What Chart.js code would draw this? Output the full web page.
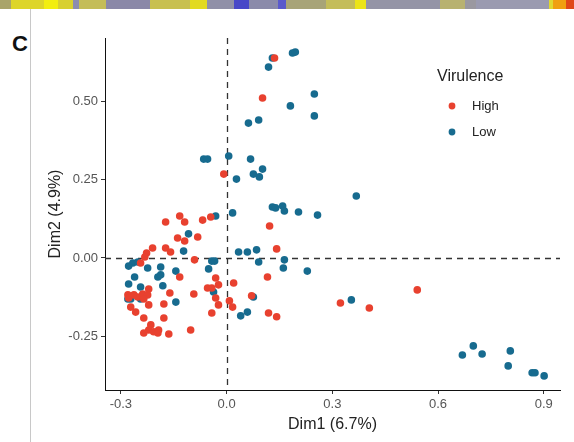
<!DOCTYPE html>
<html>
<head>
<meta charset="utf-8">
<script src="https://cdn.jsdelivr.net/npm/chart.js@4/dist/chart.umd.min.js"></script>
<style>
  html, body { margin: 0; padding: 0; background: #fff; }
  #wrap { position: relative; width: 574px; height: 442px; overflow: hidden;
          font-family: "Liberation Sans", Arial, Helvetica, sans-serif; }
  #strip { position: absolute; left: 0; top: 0; width: 574px; height: 9px;
    background: linear-gradient(to right,
      #a9a46a 0px, #a9a46a 11px, #ddd52a 11px, #ddd52a 44px, #f2ee10 44px, #f2ee10 58px,
      #d8d030 58px, #d8d030 73px, #8c8cb0 73px, #8c8cb0 79px, #c4bd58 79px, #c4bd58 106px,
      #8a88a8 106px, #8a88a8 150px, #c8c050 150px, #c8c050 190px, #e2da20 190px, #e2da20 207px,
      #9090a8 207px, #9090a8 234px, #4848c8 234px, #4848c8 249px, #8a8aaa 249px, #8a8aaa 278px,
      #5a5acc 278px, #5a5acc 286px, #a8a478 286px, #a8a478 326px, #c4bd5a 326px, #c4bd5a 355px,
      #ece418 355px, #ece418 366px, #9494a6 366px, #9494a6 440px, #b8b270 440px, #b8b270 465px,
      #9a98a0 465px, #9a98a0 476px, #9a9ab0 476px, #9a9ab0 549px, #e0d830 549px, #e0d830 553px,
      #f0a010 553px, #f0a010 566px, #e04818 566px, #e04818 574px); }
  #rule { position: absolute; left: 30px; top: 9px; width: 1px; height: 433px; background: #c8c8c8; }
  #panel { position: absolute; left: 12px; top: 31px; font-weight: bold; font-size: 22px; color: #111; }
  canvas { position: absolute; left: 0; top: 0; }
</style>
</head>
<body>
<div id="wrap">
  <div id="strip"></div>
  <div id="rule"></div>
  <div id="panel">C</div>
  <canvas id="pca" width="574" height="442"></canvas>
</div>
<script>
// Virulence groups and their PCA coordinates (Dim1, Dim2)
const groups = ['High', 'Low'];
const groupColors = ['#e8412f', '#176b8f'];

const highX = [0.136,0.102,-0.008,-0.045,-0.068,0.122,-0.133,-0.173,-0.119,-0.139,-0.119,-0.082,
  -0.173,-0.159,-0.210,-0.227,-0.232,-0.091,-0.244,0.142,0.116,-0.133,-0.031,0.020,
  -0.023,-0.054,-0.042,-0.221,-0.161,-0.093,-0.280,-0.263,-0.252,-0.238,-0.224,-0.278,
  -0.235,-0.031,0.008,-0.023,0.017,-0.221,-0.272,-0.178,0.071,-0.258,-0.235,-0.178,
  -0.042,0.119,0.142,-0.215,-0.193,-0.221,-0.207,-0.235,-0.195,-0.164,-0.102,0.323,
  0.405,0.541];
const highY = [0.639,0.511,0.268,0.131,0.121,0.102,0.134,0.115,0.115,0.064,0.054,0.067,
  0.032,0.019,0.032,0.016,0.003,-0.006,-0.016,0.029,-0.061,-0.061,-0.064,-0.080,
  -0.086,-0.096,-0.096,-0.099,-0.112,-0.115,-0.118,-0.118,-0.125,-0.115,-0.118,-0.128,
  -0.131,-0.128,-0.137,-0.150,-0.157,-0.150,-0.157,-0.147,-0.121,-0.173,-0.192,-0.192,
  -0.176,-0.176,-0.188,-0.214,-0.230,-0.230,-0.236,-0.240,-0.240,-0.243,-0.230,-0.144,
  -0.160,-0.102];

const lowX = [0.187,0.195,0.130,0.119,0.249,0.181,0.249,0.062,0.091,-0.065,
  -0.054,0.006,0.068,0.102,0.076,0.093,0.028,0.368,0.130,0.139,
  0.159,0.164,0.204,0.258,0.017,-0.031,-0.108,-0.122,0.034,0.059,
  0.085,0.091,-0.042,-0.034,-0.051,0.164,0.161,0.229,-0.266,-0.252,
  -0.278,-0.224,-0.187,-0.144,-0.261,-0.195,-0.187,-0.278,-0.244,-0.181,
  -0.037,-0.280,-0.272,-0.244,-0.144,0.076,0.040,0.059,0.354,0.669,
  0.700,0.725,0.805,0.799,0.867,0.875,0.901];
const lowY = [0.655,0.658,0.639,0.610,0.524,0.486,0.454,0.431,0.441,0.316,
  0.316,0.326,0.316,0.284,0.268,0.259,0.252,0.198,0.163,0.160,
  0.166,0.150,0.147,0.137,0.144,0.134,0.077,0.022,0.019,0.019,
  0.026,-0.013,-0.010,-0.010,-0.035,-0.006,-0.032,-0.042,-0.016,-0.013,
  -0.026,-0.032,-0.029,-0.042,-0.061,-0.061,-0.054,-0.083,-0.093,-0.089,
  -0.109,-0.131,-0.131,-0.131,-0.141,-0.125,-0.185,-0.173,-0.134,-0.310,
  -0.281,-0.307,-0.297,-0.345,-0.367,-0.367,-0.377];

const xTicks = [-0.3, 0.0, 0.3, 0.6, 0.9];
const yTicks = [-0.25, 0.00, 0.25, 0.50];
const xTitle = 'Dim1 (6.7%)';
const yTitle = 'Dim2 (4.9%)';
const legendTitle = 'Virulence';

const FONT = '"Liberation Sans", Arial, Helvetica, sans-serif';
const toPoints = (xs, ys) => xs.map((x, i) => ({ x, y: ys[i] }));

// dashed reference lines through the origin
const zeroLines = {
  id: 'zeroLines',
  beforeDatasetsDraw(chart) {
    const { ctx, chartArea: a, scales: { x, y } } = chart;
    const px = Math.round(x.getPixelForValue(0)) + 0.5;
    const py = Math.round(y.getPixelForValue(0)) + 0.5;
    ctx.save();
    ctx.strokeStyle = '#333';
    ctx.lineWidth = 1.3;
    ctx.setLineDash([6, 5]);
    ctx.beginPath();
    ctx.moveTo(px, a.top); ctx.lineTo(px, a.bottom);
    ctx.moveTo(a.left, py); ctx.lineTo(a.right, py);
    ctx.stroke();
    ctx.restore();
  }
};

// legend placed inside the plot, upper right
const groupLegend = {
  id: 'groupLegend',
  afterDraw(chart) {
    const { ctx } = chart;
    ctx.save();
    ctx.fillStyle = '#222';
    ctx.font = '16px ' + FONT;
    ctx.textAlign = 'left';
    ctx.textBaseline = 'middle';
    ctx.fillText(legendTitle, 437, 77);
    chart.data.datasets.forEach((ds, i) => {
      const cy = 106 + i * 26;
      ctx.fillStyle = ds.backgroundColor;
      ctx.beginPath();
      ctx.arc(452, cy, 3.4, 0, Math.PI * 2);
      ctx.fill();
      ctx.fillStyle = '#222';
      ctx.font = '13px ' + FONT;
      ctx.fillText(ds.label, 472, cy);
    });
    ctx.restore();
  }
};

const axisCommon = {
  type: 'linear',
  grid: { drawOnChartArea: false, drawTicks: true, tickLength: 4, color: '#333', lineWidth: 1 },
  border: { display: true, color: '#111', width: 1 },
};

new Chart(document.getElementById('pca'), {
  type: 'scatter',
  data: {
    datasets: [
      { label: groups[0], data: toPoints(highX, highY), backgroundColor: groupColors[0],
        borderWidth: 0, pointRadius: 3.8, pointHoverRadius: 3.8 },
      { label: groups[1], data: toPoints(lowX, lowY), backgroundColor: groupColors[1],
        borderWidth: 0, pointRadius: 3.8, pointHoverRadius: 3.8 }
    ]
  },
  options: {
    responsive: false,
    animation: false,
    devicePixelRatio: 1,
    layout: { padding: { left: 42, top: 38, right: 14, bottom: 4 } },
    plugins: { legend: { display: false }, tooltip: { enabled: false } },
    scales: {
      x: {
        ...axisCommon,
        min: -0.345, max: 0.946,
        afterBuildTicks: s => { s.ticks = xTicks.map(v => ({ value: v })); },
        afterFit: s => { s.height = 48; },
        ticks: { callback: v => v.toFixed(1), color: '#555', font: { family: FONT, size: 13 },
                 padding: 3, maxRotation: 0, autoSkip: false },
        title: { display: true, text: xTitle, color: '#222', font: { family: FONT, size: 16 },
                 padding: { top: 4, bottom: 4 } }
      },
      y: {
        ...axisCommon,
        min: -0.422, max: 0.703,
        afterBuildTicks: s => { s.ticks = yTicks.map(v => ({ value: v })); },
        afterFit: s => { s.width = 63; },
        ticks: { callback: v => v.toFixed(2), color: '#555', font: { family: FONT, size: 13 },
                 padding: 3, autoSkip: false },
        title: { display: true, text: yTitle, color: '#222', font: { family: FONT, size: 16 },
                 padding: { top: 4, bottom: 4 } }
      }
    }
  },
  plugins: [zeroLines, groupLegend]
});
</script>
</body>
</html>
